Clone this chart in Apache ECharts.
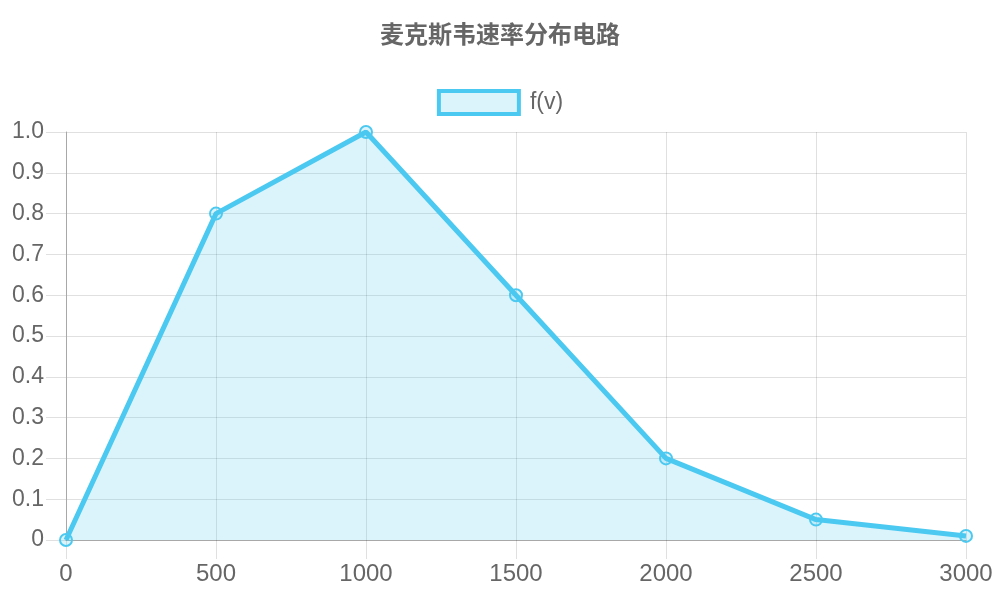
<!DOCTYPE html>
<html>
<head>
<meta charset="utf-8">
<script src="https://cdn.jsdelivr.net/npm/echarts@6/dist/echarts.min.js"></script>
<style>
	html, body { margin: 0; padding: 0; background: #fff; }
	#chart { width: 1000px; height: 600px; }
</style>
</head>
<body>
<div id="chart"></div>
<script>
	// 速率 v 与 分布 f(v)
	var speeds = [0, 500, 1000, 1500, 2000, 2500, 3000];
	var fv = [0, 0.8, 1.0, 0.6, 0.2, 0.05, 0.01];
	var seriesName = 'f(v)';
	var titleText = '麦克斯韦速率分布电路';

	var lineColor = '#4cc9f0';
	var fillColor = 'rgba(76,201,240,0.2)';
	var textColor = '#666';
	var gridColor = 'rgba(0,0,0,0.12)';
	var axisColor = '#a8a8a8';

	var points = [];
	for (var i = 0; i < speeds.length; i++) {
		points.push([speeds[i], fv[i]]);
	}

	var chart = echarts.init(document.getElementById('chart'));
	chart.setOption({
		animation: false,
		title: {
			text: titleText,
			left: 'center',
			top: 17,
			textStyle: { fontSize: 24, fontWeight: 'bold', color: textColor, fontFamily: 'Noto Sans CJK SC' }
		},
		legend: {
			top: 84,
			left: 'center',
			itemWidth: 80,
			itemHeight: 23,
			itemGap: 10,
			icon: 'rect',
			textStyle: { fontSize: 23, color: textColor, fontFamily: 'Liberation Sans', padding: [0, 0, 0, 6] },
			data: [{
				name: seriesName,
				itemStyle: { color: fillColor, borderColor: lineColor, borderWidth: 4 }
			}]
		},
		grid: { left: 66, right: 34, top: 132, bottom: 60, containLabel: false },
		xAxis: {
			type: 'value',
			min: 0,
			max: 3000,
			interval: 500,
			axisLine: { show: true, onZero: false, lineStyle: { color: axisColor, width: 1 } },
			axisTick: { show: true, length: 19, lineStyle: { color: gridColor } },
			axisLabel: {
				margin: 22,
				fontSize: 24,
				color: textColor,
				fontFamily: 'Liberation Sans',
				formatter: function (v) { return String(v); }
			},
			splitLine: { show: true, lineStyle: { color: gridColor } }
		},
		yAxis: {
			type: 'value',
			min: 0,
			max: 1,
			interval: 0.1,
			axisLine: { show: true, lineStyle: { color: axisColor, width: 1 } },
			axisTick: { show: true, length: 20, lineStyle: { color: gridColor } },
			axisLabel: {
				margin: 22,
				fontSize: 23,
				color: textColor,
				fontFamily: 'Liberation Sans',
				formatter: function (v) { return v === 0 ? '0' : v.toFixed(1); }
			},
			splitLine: { show: true, lineStyle: { color: gridColor } }
		},
		series: [{
			name: seriesName,
			type: 'line',
			data: points,
			smooth: false,
			symbol: 'circle',
			symbolSize: 12,
			lineStyle: { color: lineColor, width: 5 },
			itemStyle: { color: fillColor, borderColor: lineColor, borderWidth: 2 },
			areaStyle: { color: fillColor, opacity: 1, origin: 'start' },
			z: 3
		}]
	});
</script>
</body>
</html>
